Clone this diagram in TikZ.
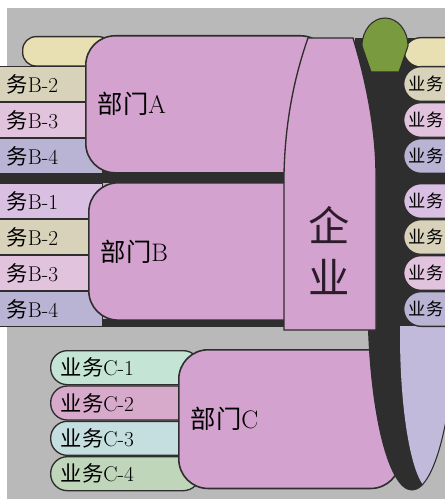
\documentclass[tikz,border=0pt]{standalone}
\usepackage{fontspec}
\newfontfamily\cjk{Noto Sans CJK SC}
\usetikzlibrary{positioning}

\definecolor{bggray}{HTML}{B9B9B9}
\definecolor{darkline}{HTML}{2E2E2E}
\definecolor{deptpink}{HTML}{D4A2CF}
\definecolor{creamtop}{HTML}{E8DFB3}
\definecolor{cream}{HTML}{D9D2BA}
\definecolor{lightpink}{HTML}{E2C3DE}
\definecolor{lavblue}{HTML}{BAB4D4}
\definecolor{lavpink}{HTML}{D9BFE2}
\definecolor{mint}{HTML}{C4E4D6}
\definecolor{rosepink}{HTML}{D7A9CA}
\definecolor{paleteal}{HTML}{C5DEE0}
\definecolor{palegreen}{HTML}{BFD6BA}
\definecolor{olive}{HTML}{7A9A40}
\definecolor{lilac}{HTML}{C2BADA}
\definecolor{qiyetext}{HTML}{2B1B2B}

\newcommand{\yewu}[1]{{\cjk 业务}#1}

\begin{document}
\begin{tikzpicture}[x=0.75pt, y=-0.75pt,
	leftrow/.style={draw=darkline, line width=1pt, anchor=north west, minimum height=26pt, text width=66pt, inner xsep=6pt, inner ysep=1pt, align=left, font=\fontsize{16}{18}\selectfont},
	crow/.style={leftrow, rounded corners=12.5pt, minimum height=25.5pt, text width=97pt, inner xsep=7.5pt},
	rightrow/.style={leftrow, rounded corners=13pt, text width=60pt, inner xsep=3.75pt, font=\cjk\fontsize{13}{15}\selectfont},
	dept/.style={draw=darkline, line width=1.2pt, fill=deptpink, rounded corners=22pt, anchor=north west, align=left, inner xsep=9pt, font=\fontsize{19}{22}\selectfont}
	]

	\fill[white] (0,0) rectangle (445,499);
	\fill[bggray] (7,8) rectangle (445,499);
	\useasboundingbox (0,0) rectangle (445,499);
	\clip (0,0) rectangle (445,499);

	% dark bands under the groups
	\fill[darkline] (-5,170) rectangle (300,183);
	\fill[darkline] (-5,319) rectangle (300,327);

	% group A, left rows
	\node (lefttop) [leftrow, fill=creamtop, rounded corners=10pt, minimum height=22pt, text width=55pt] at (22,36) {};
	\node (lefta2) [leftrow, fill=cream] at (-2,66) {{\cjk 务}B-2};
	\node (lefta3) [leftrow, fill=lightpink, below=0pt of lefta2] {{\cjk 务}B-3};
	\node (lefta4) [leftrow, fill=lavblue, below=0pt of lefta3] {{\cjk 务}B-4};

	% group B, left rows
	\node (leftb1) [leftrow, fill=lavpink] at (-2,183) {{\cjk 务}B-1};
	\node (leftb2) [leftrow, fill=cream, below=0pt of leftb1] {{\cjk 务}B-2};
	\node (leftb3) [leftrow, fill=lightpink, below=0pt of leftb2] {{\cjk 务}B-3};
	\node (leftb4) [leftrow, fill=lavblue, below=0pt of leftb3] {{\cjk 务}B-4};

	\node (depta) [dept, minimum height=102.75pt, text width=165pt] at (85,35) {{\cjk 部门}A};
	\node (deptb) [dept, minimum height=103pt, text width=163pt] at (88,182) {{\cjk 部门}B};

	% group C
	\node (bizc1) [crow, fill=mint] at (50,350) {\yewu{C-1}};
	\node (bizc2) [crow, fill=rosepink, below=0pt of bizc1] {\yewu{C-2}};
	\node (bizc3) [crow, fill=paleteal, below=0pt of bizc2] {\yewu{C-3}};
	\node (bizc4) [crow, fill=palegreen, below=0pt of bizc3] {\yewu{C-4}};
	\node (deptc) [dept, minimum height=104pt, text width=148pt] at (178,349) {{\cjk 部门}C};

	% dark back and lower shell
	\fill[darkline] (355,38) rectangle (450,300);
	\fill[darkline] (412,300) ellipse (44 and 190);
	\begin{scope}
		\clip (350,326) rectangle (450,499);
		\clip (412,300) ellipse (44 and 190);
		\fill[lilac] (431,334) ellipse (31 and 156);
	\end{scope}
	\draw[darkline, line width=0.8pt] (412,300) ellipse (44 and 190);

	% enterprise column
	\path[draw=darkline, line width=1pt, fill=deptpink] (308,38) -- (353,38) .. controls (366,80) and (376,130) .. (376,175) -- (376,330) -- (284,330) -- (284,175) .. controls (285,120) and (295,75) .. (308,38) -- cycle;
	\node (qiye) [font=\cjk\fontsize{31}{39}\selectfont, text=qiyetext, align=center] at (329,251) {企\\业};

	% right rows
	\node (righttop) [rightrow, fill=creamtop, minimum height=22pt] at (403,37) {};
	\node (righta2) [rightrow, fill=cream] at (403,66) {业务};
	\node (righta3) [rightrow, fill=lightpink, below=0pt of righta2] {业务};
	\node (righta4) [rightrow, fill=lavblue, below=0pt of righta3] {业务};
	\node (rightb1) [rightrow, fill=lavpink] at (403,183) {业务};
	\node (rightb2) [rightrow, fill=cream, below=0pt of rightb1] {业务};
	\node (rightb3) [rightrow, fill=lightpink, below=0pt of rightb2] {业务};
	\node (rightb4) [rightrow, fill=lavblue, below=0pt of rightb3] {业务};

	% green cap
	\path[draw=darkline, line width=0.8pt, fill=olive] (362,46) arc (180:360:23 and 28) -- (399,72) -- (371,72) -- cycle;

\end{tikzpicture}
\end{document}
